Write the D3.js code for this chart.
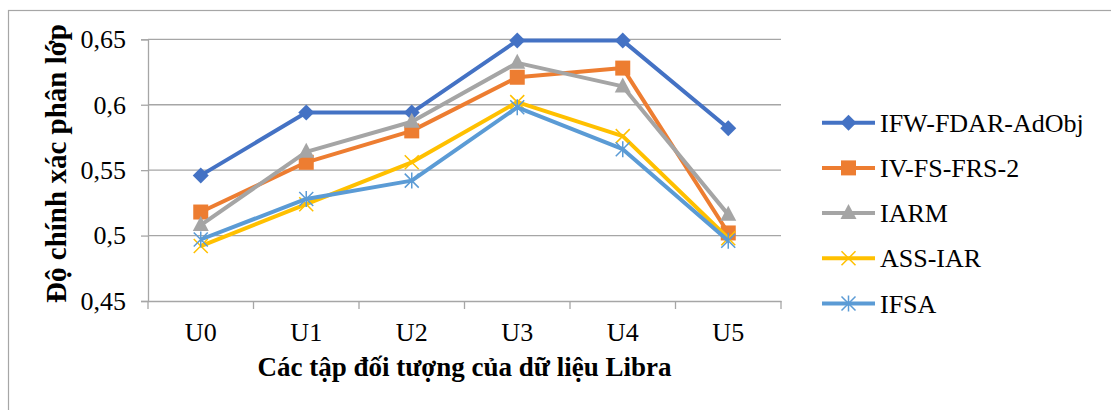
<!DOCTYPE html>
<html>
<head>
<meta charset="utf-8">
<script src="https://cdn.jsdelivr.net/npm/d3@7"></script>
<style>
  body { margin: 0; background: #fff; }
</style>
</head>
<body>
<div id="chart"></div>
<script>
// categories and series values
var categories = ["U0", "U1", "U2", "U3", "U4", "U5"];
var ifwFdar = [0.546, 0.594, 0.594, 0.649, 0.649, 0.582];
var ivFsFrs2 = [0.518, 0.556, 0.580, 0.621, 0.628, 0.502];
var iarm = [0.508, 0.564, 0.587, 0.632, 0.614, 0.516];
var assIar = [0.492, 0.524, 0.556, 0.602, 0.576, 0.498];
var ifsa = [0.497, 0.528, 0.542, 0.598, 0.566, 0.496];
var yTicks = [0.45, 0.5, 0.55, 0.6, 0.65];

var series = [
  {name: "IFW-FDAR-AdObj", values: ifwFdar, color: "#4472C4", marker: "diamond"},
  {name: "IV-FS-FRS-2", values: ivFsFrs2, color: "#ED7D31", marker: "square"},
  {name: "IARM", values: iarm, color: "#A5A5A5", marker: "triangle"},
  {name: "ASS-IAR", values: assIar, color: "#FFC000", marker: "x"},
  {name: "IFSA", values: ifsa, color: "#5B9BD5", marker: "star"}
];

var SERIF = "'Liberation Serif', 'Times New Roman', serif";
var W = 1111, H = 410;
var plot = {left: 148, right: 781, top: 39.3, bottom: 301};

var svg = d3.select("#chart")
  .append("svg")
  .attr("width", W)
  .attr("height", H);

svg.append("rect").attr("width", W).attr("height", H).attr("fill", "#fff");

// outer chart border (runs off the picture on the right and bottom)
svg.append("rect")
  .attr("x", 8.5).attr("y", 10.5)
  .attr("width", 1200).attr("height", 500)
  .attr("fill", "none")
  .attr("stroke", "#a6a6a6")
  .attr("stroke-width", 1.2);

var x = d3.scaleBand()
  .domain(categories)
  .range([plot.left, plot.right]);

var y = d3.scaleLinear()
  .domain([0.45, 0.65])
  .range([plot.bottom, plot.top]);

var fmt = function(d) { return String(+d.toFixed(2)).replace(".", ","); };

// gridlines
svg.append("g")
  .selectAll("line")
  .data(yTicks.slice(1))
  .enter()
  .append("line")
  .attr("x1", plot.left).attr("x2", plot.right)
  .attr("y1", d => y(d)).attr("y2", d => y(d))
  .attr("stroke", "#a6a6a6")
  .attr("stroke-width", 1.3);

// y axis
var yAxis = svg.append("g")
  .attr("transform", "translate(" + plot.left + ",0)")
  .call(d3.axisLeft(y).tickValues(yTicks).tickSize(7).tickPadding(15).tickFormat(fmt));
yAxis.select(".domain").attr("stroke", "#a6a6a6").attr("stroke-width", 1.3);
yAxis.selectAll(".tick line").attr("stroke", "#a6a6a6").attr("stroke-width", 1.3);
yAxis.selectAll("text")
  .style("font-family", SERIF)
  .style("font-size", "26px")
  .attr("fill", "#000");

// x axis
var xAxis = svg.append("g")
  .attr("transform", "translate(0," + plot.bottom + ")")
  .call(d3.axisBottom(x).tickSize(0).tickPadding(22));
xAxis.select(".domain").attr("stroke", "#a6a6a6").attr("stroke-width", 1.3);
xAxis.selectAll("text")
  .style("font-family", SERIF)
  .style("font-size", "26px")
  .attr("fill", "#000");

// category separators below the axis
var bounds = categories.map(d => x(d)).concat([plot.right]);
xAxis.selectAll(".sep")
  .data(bounds)
  .enter()
  .append("line")
  .attr("class", "sep")
  .attr("x1", d => d).attr("x2", d => d)
  .attr("y1", 0).attr("y2", 8)
  .attr("stroke", "#a6a6a6")
  .attr("stroke-width", 1.3);

// axis titles
svg.append("text")
  .attr("x", (plot.left + plot.right) / 2)
  .attr("y", 376)
  .attr("text-anchor", "middle")
  .style("font-family", SERIF)
  .style("font-size", "27px")
  .style("font-weight", "bold")
  .text("Các tập đối tượng của dữ liệu Libra");

svg.append("text")
  .attr("transform", "translate(66,163.5) rotate(-90)")
  .attr("text-anchor", "middle")
  .style("font-family", SERIF)
  .style("font-size", "29px")
  .style("font-weight", "bold")
  .text("Độ chính xác phân lớp");

// marker drawing
function drawMarker(g, type, color) {
  if (type === "diamond") {
    g.append("path").attr("d", "M0,-8L8,0L0,8L-8,0Z").attr("fill", color);
  } else if (type === "square") {
    g.append("rect").attr("x", -7.5).attr("y", -7.5).attr("width", 15).attr("height", 15).attr("fill", color);
  } else if (type === "triangle") {
    g.append("path").attr("d", "M0,-9L8,6L-8,6Z").attr("fill", color);
  } else if (type === "x") {
    g.append("path").attr("d", "M-7,-7L7,7M-7,7L7,-7")
      .attr("stroke", color).attr("stroke-width", 1.5).attr("fill", "none");
  } else if (type === "star") {
    g.append("path").attr("d", "M-7,-7L7,7M-7,7L7,-7M0,-8L0,8")
      .attr("stroke", color).attr("stroke-width", 1.5).attr("fill", "none");
  }
}

var line = d3.line()
  .x((d, i) => x(categories[i]) + x.bandwidth() / 2)
  .y(d => y(d));

series.forEach(function(s) {
  var g = svg.append("g");
  g.append("path")
    .datum(s.values)
    .attr("d", line)
    .attr("fill", "none")
    .attr("stroke", s.color)
    .attr("stroke-width", 4)
    .attr("stroke-linejoin", "round");
  g.selectAll(".m")
    .data(s.values)
    .enter()
    .append("g")
    .attr("class", "m")
    .attr("transform", (d, i) => "translate(" + (x(categories[i]) + x.bandwidth() / 2) + "," + y(d) + ")")
    .each(function() { drawMarker(d3.select(this), s.marker, s.color); });
});

// legend
var legend = svg.append("g");
series.forEach(function(s, i) {
  var ly = 122.7 + i * 45.2;
  var lg = legend.append("g").attr("transform", "translate(0," + ly + ")");
  lg.append("line")
    .attr("x1", 822).attr("x2", 875)
    .attr("stroke", s.color).attr("stroke-width", 4);
  drawMarker(lg.append("g").attr("transform", "translate(848.5,0)"), s.marker, s.color);
  lg.append("text")
    .attr("x", 880)
    .attr("y", 0)
    .attr("dy", "0.35em")
    .style("font-family", SERIF)
    .style("font-size", "26px")
    .text(s.name);
});
</script>
</body>
</html>
